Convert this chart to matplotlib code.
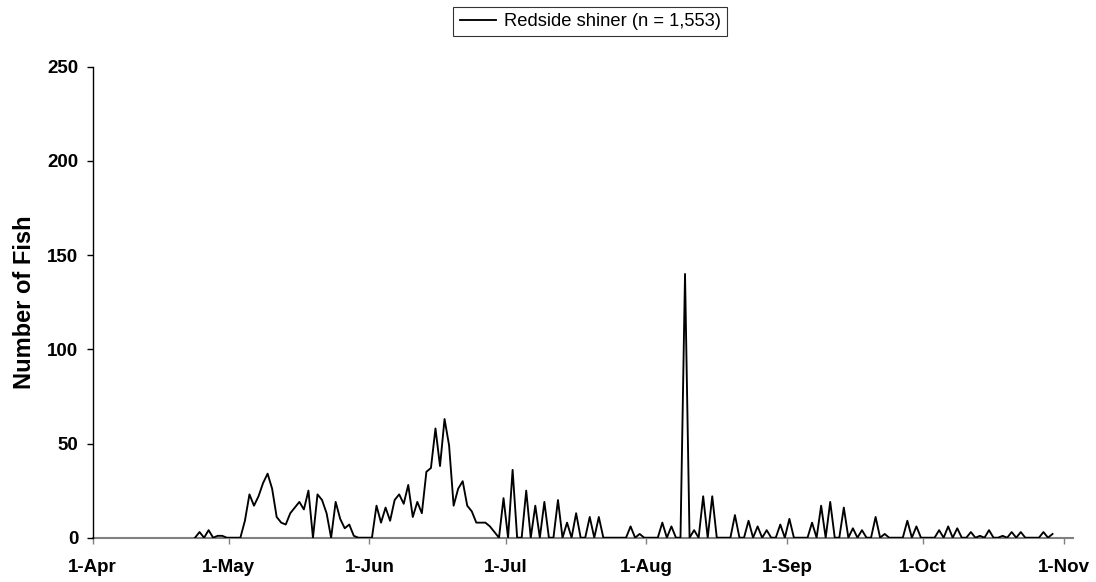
import matplotlib
matplotlib.use("Agg")
import matplotlib.pyplot as plt
import pandas as pd

# Daily counts of Redside shiner, starting 23-Apr
start_date = "2004-04-23"
counts = [
    0, 3, 0, 4, 0, 1, 1, 0, 0, 0, 0,                      # 23-Apr .. 3-May
    9, 23, 17, 22, 29, 34, 26, 11, 8, 7, 13, 16, 19, 15,  # 4-May ..
    25, 0, 23, 20, 13, 0, 19, 10, 5, 7, 1, 0, 0, 0, 0,    # .. 1-Jun
    17, 8, 16, 9, 20, 23, 18, 28, 11, 19, 13, 35, 37, 58,
    38, 63, 49, 17, 26, 30, 17, 14, 8, 8, 8, 6, 3, 0,     # .. 29-Jun
    21, 0, 36, 0, 0, 25, 0, 17, 0, 19, 0, 0, 20, 0, 8, 0,
    13, 0, 0, 11, 0, 11, 0, 0, 0, 0, 0, 0, 6, 0, 2,       # .. 30-Jul
    0, 0, 0, 0, 8, 0, 6, 0, 0, 140, 0, 4, 0, 22, 0, 22,
    0, 0, 0, 0, 12, 0, 0, 9, 0, 6, 0, 4, 0, 0, 7, 0, 10,  # .. 1-Sep
    0, 0, 0, 0, 8, 0, 17, 0, 19, 0, 0, 16, 0, 5, 0, 4,
    0, 0, 11, 0, 2, 0, 0, 0, 0, 9, 0, 6, 0, 0, 0, 0,      # .. 3-Oct
    4, 0, 6, 0, 5, 0, 0, 3, 0, 1, 0, 4, 0, 0, 1, 0, 3,
    0, 3, 0, 0, 0, 0, 3, 0, 2,                            # .. 29-Oct
]
series_label = "Redside shiner (n = 1,553)"
tick_dates = ["2004-04-01", "2004-05-01", "2004-06-01", "2004-07-01",
              "2004-08-01", "2004-09-01", "2004-10-01", "2004-11-01"]
tick_labels = ["1-Apr", "1-May", "1-Jun", "1-Jul", "1-Aug", "1-Sep", "1-Oct", "1-Nov"]
y_ticks = [0, 50, 100, 150, 200, 250]
y_label = "Number of Fish"

plt.rcParams["font.family"] = ["Liberation Sans", "DejaVu Sans"]

dates = pd.date_range(start=start_date, periods=len(counts), freq="D") + pd.Timedelta(hours=13)

fig = plt.figure(figsize=(10.96, 5.82), dpi=100)
ax = fig.add_axes([0.0846, 0.0761, 0.8942, 0.8093])

line, = ax.plot(dates, counts, color="black", linewidth=1.35, label=series_label, zorder=3)

ax.set_xlim(pd.Timestamp(tick_dates[0]), pd.Timestamp(tick_dates[-1]) + pd.Timedelta(days=2))
ax.set_ylim(0, 250)

ax.set_xticks([pd.Timestamp(d) for d in tick_dates])
ax.set_xticklabels(tick_labels, fontsize=13.5, fontweight="bold")
ax.set_yticks(y_ticks)
ax.set_yticklabels([str(v) for v in y_ticks], fontsize=13.5, fontweight="bold")

for s in ("top", "right"):
    ax.spines[s].set_visible(False)
ax.spines["left"].set_color("black")
ax.spines["left"].set_linewidth(1.0)
ax.spines["bottom"].set_color("#808080")
ax.spines["bottom"].set_linewidth(1.5)
ax.spines["bottom"].set_zorder(1)

ax.tick_params(axis="y", direction="out", length=4.3, width=1.0, color="black", pad=6)
ax.tick_params(axis="x", direction="out", length=4.3, width=1.0, color="#808080", pad=11)

ax.set_ylabel(y_label, fontsize=17, fontweight="bold")
ax.yaxis.set_label_coords(-0.058, 0.5)

leg = fig.legend(handles=[line], loc="center", bbox_to_anchor=(0.5385, 0.963),
                 frameon=True, fancybox=False, edgecolor="black", fontsize=13.2,
                 handlelength=2.0, handletextpad=0.4, borderpad=0.35, borderaxespad=0)
leg.get_frame().set_linewidth(0.8)

fig.savefig("out.png", dpi=100)
